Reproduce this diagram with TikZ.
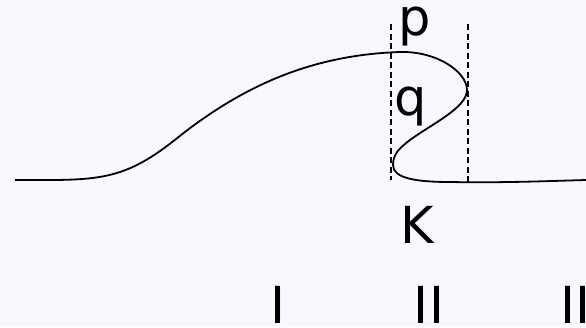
\documentclass[tikz,border=0pt]{standalone}
\usepackage{fontspec}
\setmainfont{DejaVu Sans}
\usetikzlibrary{positioning}

\definecolor{paleBg}{RGB}{248,248,255}

\begin{document}
\begin{tikzpicture}[
        x=1pt, y=-1pt,
        waveLine/.style={
            draw=black,
            line width=1.8pt,
            line join=round
        },
        boundLine/.style={
            draw=black,
            line width=1.5pt,
            dash pattern=on 6pt off 3.5pt
        },
        label/.style={
            font=\fontsize{51}{61}\selectfont,
            inner sep=0pt,
            anchor=base
        }
    ]

        % Background and frame
        \fill[paleBg] (0,0) rectangle (586,327);
        \clip (0,0) rectangle (586,327);

        % Dashed bounds of the fold
        \coordinate (leftTop) at (391,24);
        \coordinate (leftBottom) at (391,180);
        \coordinate (rightTop) at (468,24);
        \coordinate (rightBottom) at (468,182);
        \draw[boundLine] (leftTop) -- (leftBottom);
        \draw[boundLine] (rightTop) -- (rightBottom);

        % The folded curve
        \draw[waveLine] (15,180)
            .. controls (95,180) and (121,183) .. (176,139)
            .. controls (241,87) and (310,55) .. (400,52)
            .. controls (437,51) and (467,72) .. (467,90)
            .. controls (467,108) and (430,125) .. (410,140)
            .. controls (398,149) and (393,155) .. (393,165)
            .. controls (393,178) and (415,182) .. (450,182)
            .. controls (500,183) and (550,181) .. (586,180);

        % Point labels
        \node[label] (pLabel) at (415,35) {p};
        \node[label] (qLabel) at (411,115) {q};
        \node[label] (kLabel) at (417,243) {K};

        % Region labels
        \node[label] (regionOne) at (278,323) {I};
        \node[label] (regionTwo) at (429,323) {II};
        \node[label, anchor=base west] (regionThree) at (560,323) {III};

    \end{tikzpicture}
\end{document}
